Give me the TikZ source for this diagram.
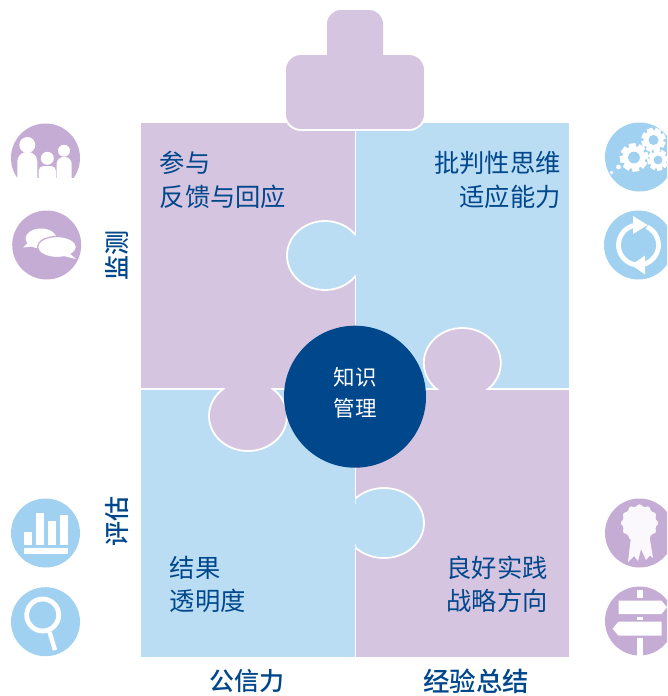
\documentclass[tikz,border=0pt]{standalone}
\usepackage{fontspec}
\setmainfont{Noto Sans CJK SC}
\newfontfamily\labelfont{Noto Sans CJK SC Medium}
\definecolor{panelP}{HTML}{D6C5E1}
\definecolor{panelB}{HTML}{BBDDF4}
\definecolor{iconP}{HTML}{C4ACD5}
\definecolor{iconB}{HTML}{A1D1F1}
\definecolor{navy}{HTML}{00478B}
\newcommand{\gearicon}[4]{%
  \foreach \a in {0,45,...,315}{\fill[white,rotate around={\a+#4:(#1,#2)}] ({#1-0.24*#3},{#2-#3}) rectangle ({#1+0.24*#3},{#2+#3});}
  \fill[white] (#1,#2) circle[radius={0.82*#3 pt}];
  \fill[iconB] (#1,#2) circle[radius={0.42*#3 pt}];
}
\tikzset{
  body/.style={text=navy,font=\fontsize{25.3}{25.3}\selectfont,inner sep=0pt},
  axislabel/.style={text=navy,font=\labelfont\fontsize{25}{25}\selectfont,inner sep=0pt},
  centerlabel/.style={text=white,font=\fontsize{21.5}{21.5}\selectfont,inner sep=0pt},
  tabedge/.style={draw=white,line width=1.8pt},
  iconline/.style={draw=white,line width=4.8pt}
}
\begin{document}
\begin{tikzpicture}[x=1pt,y=-1pt]
\useasboundingbox (0,0) rectangle (667,696);
\clip (0,0) rectangle (667,696);
% panels
\fill[panelP] (141,123) rectangle (355.5,389.3);
\fill[panelB] (355.5,123) rectangle (569,389.3);
\fill[panelB] (141,389.3) rectangle (355.5,657);
\fill[panelP] (355.5,389.3) rectangle (569,657);
\draw[white,line width=1.8pt] (355.5,123) -- (355.5,657);
\draw[white,line width=1.8pt] (141,389.3) -- (569,389.3);
% top block
\draw[fill=panelP,draw=white,line width=1.8pt,rounded corners=16pt]
  (285,54) rectangle (425,130);
\fill[panelP,rounded corners=14pt] (327,70) -- (327,10) -- (383,10) -- (383,70) -- cycle;
\fill[panelP] (327,50) rectangle (383,70);
% tabs
\begin{scope}\clip (250,200) rectangle (355.5,310);
 \path[fill=panelB,tabedge] (325,255.5) ellipse[x radius=38pt,y radius=34.5pt];\end{scope}
\fill[panelB] (355,235.8) rectangle (357,275.2);
\begin{scope}\clip (400,310) rectangle (520,389.3);
 \path[fill=panelP,tabedge] (462.3,363) ellipse[x radius=38.5pt,y radius=35pt];\end{scope}
\fill[panelP] (440.5,388.8) rectangle (484,391);
\begin{scope}\clip (190,389.3) rectangle (300,470);
 \path[fill=panelP,tabedge] (248,416) ellipse[x radius=39pt,y radius=35pt];\end{scope}
\fill[panelP] (225,387.5) rectangle (271,389.8);
\begin{scope}\clip (355.5,470) rectangle (440,575);
 \path[fill=panelB,tabedge] (384,523) ellipse[x radius=40pt,y radius=35pt];\end{scope}
\fill[panelB] (354,503.5) rectangle (356,543.5);
% centre
\node[circle,fill=navy,minimum size=142pt,inner sep=0pt] (hub) at (355,396.7) {};
\node[centerlabel] (hubA) at (355,377) {知识};
\node[centerlabel] (hubB) at (355,408.5) {管理};
% panel text
\node[body,anchor=west] (t1) at (159.5,163) {参与};
\node[body,anchor=west] (t2) at (159.5,197) {反馈与回应};
\node[body,anchor=east] (t3) at (561,163) {批判性思维};
\node[body,anchor=east] (t4) at (561,197) {适应能力};
\node[body,anchor=west] (t5) at (169.5,568) {结果};
\node[body,anchor=west] (t6) at (169.5,601) {透明度};
\node[body,anchor=east] (t7) at (548,568) {良好实践};
\node[body,anchor=east] (t8) at (548,601) {战略方向};
% axis labels
\node[axislabel] (a1) at (247,681) {公信力};
\node[axislabel,font=\labelfont\fontsize{26.5}{26.5}\selectfont] (a2) at (476,681) {经验总结};
\node[axislabel,rotate=90] (a3) at (117,255) {监测};
\node[axislabel,rotate=90] (a4) at (117,521) {评估};
% people icon
\fill[iconP] (45.5,158) circle[radius=34.5pt];
\fill[white] (0,178) rectangle (90,200);
\fill[white] (27.3,145) circle[radius=8pt];
\fill[white] (64,150.7) circle[radius=6pt];
\fill[white] (47.3,158.3) circle[radius=6.5pt];
\fill[white,rounded corners=9.5pt] (17.3,190) -- (17.3,152) -- (37.3,152) -- (37.3,190) -- cycle;
\fill[white,rounded corners=7pt] (56.7,190) -- (56.7,157) -- (71.7,157) -- (71.7,190) -- cycle;
\fill[white,rounded corners=5pt] (38.5,190) -- (38.5,166) -- (56,166) -- (56,190) -- cycle;
% speech icon
\fill[iconP] (46.7,245) circle[radius=34.5pt];
\fill[white] (41,238.5) ellipse[x radius=15.5pt,y radius=10pt];
\fill[white] (31,240) -- (23,247.5) -- (36,246) -- cycle;
\path[fill=white,draw=iconP,line width=1.2pt] (57,247) ellipse[x radius=19.5pt,y radius=10.5pt];
\fill[white] (66,250) -- (76,259) -- (60,255) -- cycle;
% gears icon
\fill[iconB] (639.5,157) circle[radius=34.5pt];
\gearicon{634}{157.5}{14}{8}
\gearicon{653.5}{140}{12}{20}
\gearicon{658}{160}{10.5}{10}
\fill[white] (618.5,167) circle[radius=2.4pt];
\fill[white] (611.5,172.5) circle[radius=1.8pt];
% refresh icon
\fill[iconB] (638.5,245) circle[radius=34.5pt];
\begin{scope}[shift={(638.5,245)}]
 \draw[white,line width=4.8pt] (97:20pt) arc[start angle=97,end angle=262,radius=20pt];
 \draw[white,line width=4.8pt] (65:20pt) arc[start angle=65,end angle=-80,radius=20pt];
\end{scope}
\fill[white] (633,216) -- (647.5,225) -- (633,234) -- cycle;
\fill[white] (645,255.5) -- (631.5,265) -- (645,274.5) -- cycle;
% bars icon
\fill[iconB] (45.5,533) circle[radius=34.5pt];
\fill[white] (23.5,548) rectangle (67.5,554);
\fill[white] (23.5,531.5) rectangle (31.7,544.5);
\fill[white] (35.5,512.5) rectangle (43.5,544.5);
\fill[white] (47.5,521) rectangle (55.5,544.5);
\fill[white] (59.5,515) rectangle (67.5,544.5);
% magnifier icon
\fill[iconB] (45.5,621.7) circle[radius=34.5pt];
\coordinate (lensC) at (42.7,615);
\draw[iconline] (lensC) circle[radius=16pt];
\draw[white,line width=4.4pt] (49.5,632) -- (55,650);
% rosette icon
\fill[iconP] (639.5,533) circle[radius=34.5pt];
\begin{scope}[shift={(639.5,523)}]
 \fill[white!92!iconP] (0,0) circle[radius=17pt];
 \foreach \a in {0,30,...,330}{\fill[white!92!iconP] (\a:15.5pt) circle[radius=3.2pt];}
\end{scope}
\fill[white!92!iconP] (632,528) -- (628,562) -- (634,556) -- (638,561) -- (641,549) -- (646,560) -- (650,555.5) -- (653,558) -- (648,528) -- cycle;
% signpost icon
\fill[iconP] (639.5,621) circle[radius=34.5pt];
\fill[white] (636.7,590) rectangle (642.7,598);
\fill[white] (636.7,616.7) rectangle (642.7,620);
\fill[white] (636.7,637.7) rectangle (642.7,656);
\fill[white] (618.5,600.7) -- (661.5,600.7) -- (667,607.3) -- (661.5,614) -- (618.5,614) -- cycle;
\fill[white] (618.5,621.7) -- (661.5,621.7) -- (661.5,635.7) -- (618.5,635.7) -- (612.5,628.7) -- cycle;
\end{tikzpicture}
\end{document}
